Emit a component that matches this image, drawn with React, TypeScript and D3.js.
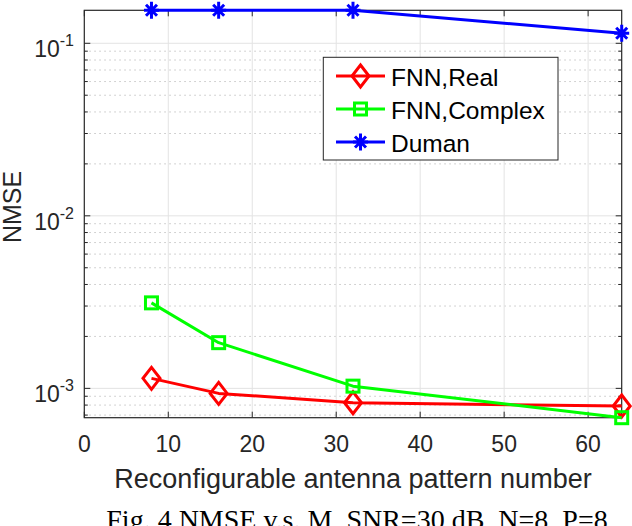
import React from "react";
import * as d3 from "d3";

const patternNumbers = [8, 16, 32, 64];
const fnnReal = [1.143e-3, 0.935e-3, 0.825e-3, 0.79e-3];
const fnnComplex = [3.13e-3, 1.84e-3, 1.03e-3, 6.76e-4];
const duman = [0.1553, 0.1553, 0.1553, 0.1143];
const xTicks = [0, 10, 20, 30, 40, 50, 60];
const yDecades = [-3, -2, -1];
const seriesNames = ["FNN,Real", "FNN,Complex", "Duman"];

const W = 632, H = 526;
const L = 84.3, R = 621.7, T = 10.3, B = 417.7;
const FONT = "'Liberation Sans', Arial, Helvetica, sans-serif";
const AX = "#262626";

function Marker({ kind, x, y, color }: { kind: string; x: number; y: number; color: string }) {
  if (kind === "diamond") {
    const w = 8.5, h = 11;
    return <path d={`M${x},${y - h}L${x + w},${y}L${x},${y + h}L${x - w},${y}Z`} fill="none" stroke={color} strokeWidth={3} />;
  }
  if (kind === "square") {
    const s = 6;
    return <rect x={x - s} y={y - s} width={2 * s} height={2 * s} fill="none" stroke={color} strokeWidth={3} />;
  }
  const r = 7.5, d = 5.5;
  return (
    <path d={`M${x - r},${y}L${x + r},${y}M${x},${y - r - 1}L${x},${y + r + 1}M${x - d},${y - d}L${x + d},${y + d}M${x - d},${y + d}L${x + d},${y - d}`} stroke={color} strokeWidth={3} fill="none" />
  );
}

export default function App() {
  const all = [...fnnReal, ...fnnComplex, ...duman];
  const [ymin, ymax] = d3.extent(all) as [number, number];
  const x = d3.scaleLinear().domain([0, 64]).range([L, R]);
  const y = d3.scaleLog().domain([ymin, ymax]).range([B, T]);

  const minor: number[] = [];
  for (let e = -4; e <= 0; e++) {
    for (let m = 2; m <= 9; m++) {
      const v = m * Math.pow(10, e);
      if (v >= ymin && v <= ymax) minor.push(v);
    }
  }
  const series = [
    { name: seriesNames[0], vals: fnnReal, color: "#ff0000", kind: "diamond" },
    { name: seriesNames[1], vals: fnnComplex, color: "#00ff00", kind: "square" },
    { name: seriesNames[2], vals: duman, color: "#0000ff", kind: "asterisk" },
  ];
  const line = d3.line<number>().x((_, i) => x(patternNumbers[i])).y((v) => y(v));

  const legL = 323.3, legT = 57.3, legR = 558, legB = 160;
  const rowY = [76, 109, 142];

  return (
    <svg width={W} height={H} style={{ display: "block", position: "absolute", left: 0, top: 0 }} fontFamily={FONT}>
      <rect width={W} height={H} fill="#fff" />
      {/* minor grid */}
      {minor.map((v, i) => (
        <line key={"mg" + i} x1={L} x2={R} y1={y(v)} y2={y(v)} stroke="#c4c4c4" strokeWidth={1} strokeDasharray="1.5,3.5" />
      ))}
      {/* major grid */}
      {xTicks.slice(1).map((t) => (
        <line key={"gx" + t} x1={x(t)} x2={x(t)} y1={T} y2={B} stroke="#e3e3e3" strokeWidth={1} />
      ))}
      {yDecades.map((e) => (
        <line key={"gy" + e} x1={L} x2={R} y1={y(Math.pow(10, e))} y2={y(Math.pow(10, e))} stroke="#e3e3e3" strokeWidth={1} />
      ))}
      {/* ticks */}
      {xTicks.map((t) => (
        <g key={"tx" + t}>
          <line x1={x(t)} x2={x(t)} y1={B} y2={B - 6} stroke={AX} strokeWidth={1} />
          <line x1={x(t)} x2={x(t)} y1={T} y2={T + 6} stroke={AX} strokeWidth={1} />
        </g>
      ))}
      {yDecades.map((e) => {
        const yy = y(Math.pow(10, e));
        return (
          <g key={"ty" + e}>
            <line x1={L} x2={L + 6} y1={yy} y2={yy} stroke={AX} strokeWidth={1} />
            <line x1={R} x2={R - 6} y1={yy} y2={yy} stroke={AX} strokeWidth={1} />
          </g>
        );
      })}
      {minor.map((v, i) => (
        <g key={"tm" + i}>
          <line x1={L} x2={L + 3.5} y1={y(v)} y2={y(v)} stroke={AX} strokeWidth={1} />
          <line x1={R} x2={R - 3.5} y1={y(v)} y2={y(v)} stroke={AX} strokeWidth={1} />
        </g>
      ))}
      {/* box */}
      <rect x={L} y={T} width={R - L} height={B - T} fill="none" stroke={AX} strokeWidth={1.2} />
      {/* tick labels */}
      {xTicks.map((t) => (
        <text key={"lx" + t} x={x(t)} y={452} textAnchor="middle" fontSize={23} fill={AX}>
          {t}
        </text>
      ))}
      {yDecades.map((e) => (
        <text key={"ly" + e} x={74} y={y(Math.pow(10, e)) + 14} textAnchor="end" fontSize={23} fill={AX}>
          10<tspan dy={-11} fontSize={16}>{e}</tspan>
        </text>
      ))}
      <text x={(L + R) / 2} y={488} textAnchor="middle" fontSize={27} fill={AX}>
        Reconfigurable antenna pattern number
      </text>
      <text transform={`translate(21,207) rotate(-90)`} textAnchor="middle" fontSize={25} fill={AX}>
        NMSE
      </text>
      {/* data */}
      {series.map((s) => (
        <g key={s.name}>
          <path d={line(s.vals) || ""} fill="none" stroke={s.color} strokeWidth={3} strokeLinejoin="round" />
          {s.vals.map((v, i) => (
            <Marker key={i} kind={s.kind} x={x(patternNumbers[i])} y={y(v)} color={s.color} />
          ))}
        </g>
      ))}
      {/* legend */}
      <rect x={legL} y={legT} width={legR - legL} height={legB - legT} fill="#fff" stroke={AX} strokeWidth={1} />
      {series.map((s, i) => (
        <g key={"lg" + i}>
          <line x1={336} x2={385} y1={rowY[i]} y2={rowY[i]} stroke={s.color} strokeWidth={3} />
          <Marker kind={s.kind} x={360.5} y={rowY[i]} color={s.color} />
          <text x={391} y={rowY[i] + 9.5} fontSize={24.5} fill="#000">
            {s.name}
          </text>
        </g>
      ))}
      {/* caption */}
      <text x={357} y={529} textAnchor="middle" fontSize={28} fontFamily="'Liberation Serif', 'Times New Roman', serif" fill="#000">
        Fig. 4 NMSE v.s. M, SNR=30 dB, N=8, P=8
      </text>
    </svg>
  );
}
